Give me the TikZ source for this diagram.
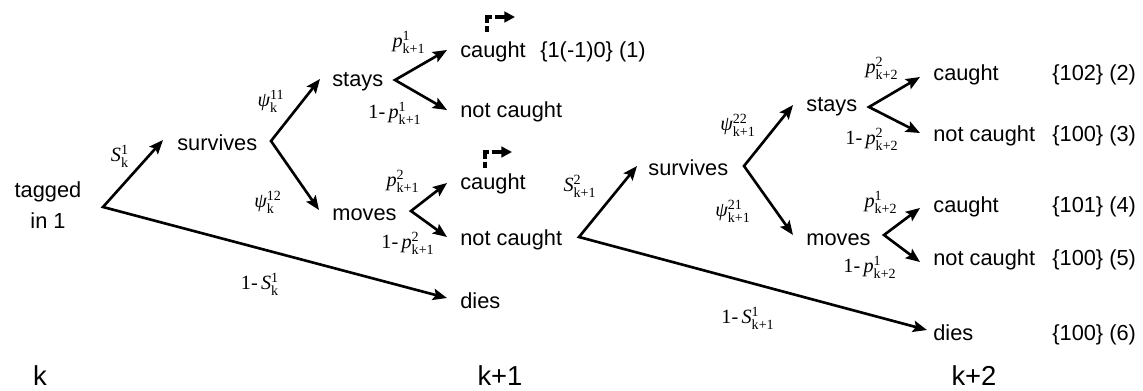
\documentclass[tikz,border=0pt]{standalone}
\usepackage{fontspec}
\setmainfont{Liberation Sans}
\newfontfamily\tms{Liberation Serif}
\usetikzlibrary{arrows.meta,calc}

% probability labels: symbol with upper and lower index
\newcommand\lab[3]{\ensuremath{\mbox{\tms\itshape #1}^{\mbox{\tms\fontsize{8}{9}\selectfont #2}}_{\mbox{\tms\fontsize{8}{9}\selectfont #3}}}}
\newcommand\one{{\tms 1-\,}}

\begin{document}
\begin{tikzpicture}[x=0.02cm,y=-0.02cm,
  arrs/.style={line width=1.5pt,{Stealth[length=8pt,width=6.5pt,inset=1.5pt]}-{Stealth[length=8pt,width=6.5pt,inset=1.5pt]}},
  txt/.style={anchor=base west,inner sep=0pt,font=\fontsize{12.4}{14}\selectfont},
  lbl/.style={inner sep=0pt,font=\fontsize{11.5}{13}\selectfont},
  back/.style={line width=2pt,dash pattern=on 3.4pt off 1.8pt on 6pt off 1.8pt on 30pt off 0pt,-{Triangle[length=6pt,width=6pt]}},
  time/.style={anchor=base,inner sep=0pt,font=\fontsize{15.6}{18}\selectfont}]
  \useasboundingbox (0,0) rectangle (1143,390);

  % states
  \node[inner sep=0pt,align=center,font=\fontsize{12.4}{17.6}\selectfont] (tagged) at (48,205) {tagged\\in 1};
  \node[txt] (surv) at (177,150) {survives};
  \node[txt] (stay) at (332,86) {stays};
  \node[txt] (move) at (332,220) {moves};
  \node[txt] (caughtA) at (460,57) {caught};
  \node[txt] (notcaughtA) at (460,117) {not caught};
  \node[txt] (caughtB) at (460,189) {caught};
  \node[txt] (notcaughtB) at (460,245) {not caught};
  \node[txt] (dieA) at (460,308) {dies};
  \node[txt] (survB) at (648,175) {survives};
  \node[txt] (stayB) at (806,111) {stays};
  \node[txt] (moveB) at (806,245) {moves};
  \node[txt] (caughtC) at (933,80) {caught};
  \node[txt] (notcaughtC) at (933,141) {not caught};
  \node[txt] (caughtD) at (933,212) {caught};
  \node[txt] (notcaughtD) at (933,265) {not caught};
  \node[txt] (dieB) at (933,340) {dies};

  % capture histories
  \node[txt] (codeA) at (540,57) {\{1(-1)0\} (1)};
  \node[txt] (codeB) at (1052,80) {\{102\} (2)};
  \node[txt] (codeC) at (1052,141) {\{100\} (3)};
  \node[txt] (codeD) at (1052,212) {\{101\} (4)};
  \node[txt] (codeE) at (1052,265) {\{100\} (5)};
  \node[txt] (codeF) at (1052,340) {\{100\} (6)};

  % branch points
  \coordinate (bTag) at (103,207);
  \coordinate (bSurv) at (271,141);
  \coordinate (bStay) at (395,80);
  \coordinate (bMove) at (411,211);
  \coordinate (bNot) at (579,237);
  \coordinate (bSurvB) at (744,166);
  \coordinate (bStayB) at (869,107);
  \coordinate (bMoveB) at (884,235);

  \draw[arrs] ($(surv.base west)+(-14,-10)$) -- (bTag) -- ($(dieA.base west)+(-13,-10)$);
  \draw[arrs] ($(stay.base west)+(-12,-7)$) -- (bSurv) -- ($(move.base west)+(-13,-10)$);
  \draw[arrs] ($(caughtA.base west)+(-13,-7)$) -- (bStay) -- ($(notcaughtA.base west)+(-13,-7)$);
  \draw[arrs] ($(caughtB.base west)+(-13,-6)$) -- (bMove) -- ($(notcaughtB.base west)+(-13,-8)$);
  \draw[arrs] ($(survB.base west)+(-11,-9)$) -- (bNot) -- ($(dieB.base west)+(-6,-10)$);
  \draw[arrs] ($(stayB.base west)+(-13,-6)$) -- (bSurvB) -- ($(moveB.base west)+(-13,-10)$);
  \draw[arrs] ($(caughtC.base west)+(-13,-3)$) -- (bStayB) -- ($(notcaughtC.base west)+(-13,-8)$);
  \draw[arrs] ($(caughtD.base west)+(-13,-4)$) -- (bMoveB) -- ($(notcaughtD.base west)+(-13,-3)$);

  % returns to site 1
  \draw[back] (487,32) |- (515,17);
  \draw[back] (485,168) |- (512,152);

  % probabilities
  \node[lbl] (sA) at (120,156) {\lab{S}{1}{k}};
  \node[lbl] (dA) at (260,284) {\one\lab{S}{1}{k}};
  \node[lbl] (psiA) at (271,101) {\lab{ψ}{11}{k}};
  \node[lbl] (psiB) at (268,202) {\lab{ψ}{12}{k}};
  \node[lbl] (pA) at (409,42) {\lab{p}{1}{k+1}};
  \node[lbl] (qA) at (395,113) {\one\lab{p}{1}{k+1}};
  \node[lbl] (pB) at (403,181) {\lab{p}{2}{k+1}};
  \node[lbl] (qB) at (408,243) {\one\lab{p}{2}{k+1}};
  \node[lbl] (sB) at (580,186) {\lab{S}{2}{k+1}};
  \node[lbl] (dB) at (748,318) {\one\lab{S}{1}{k+1}};
  \node[lbl] (psiC) at (738,125) {\lab{ψ}{22}{k+1}};
  \node[lbl] (psiD) at (733,211) {\lab{ψ}{21}{k+1}};
  \node[lbl] (pC) at (882,68) {\lab{p}{2}{k+2}};
  \node[lbl] (qC) at (872,139) {\one\lab{p}{2}{k+2}};
  \node[lbl] (pD) at (881,202) {\lab{p}{1}{k+2}};
  \node[lbl] (qD) at (870,267) {\one\lab{p}{1}{k+2}};

  % occasions
  \node[time] (tk) at (40,385) {k};
  \node[time] (tkA) at (500,385) {k+1};
  \node[time] (tkB) at (974,385) {k+2};
\end{tikzpicture}
\end{document}
